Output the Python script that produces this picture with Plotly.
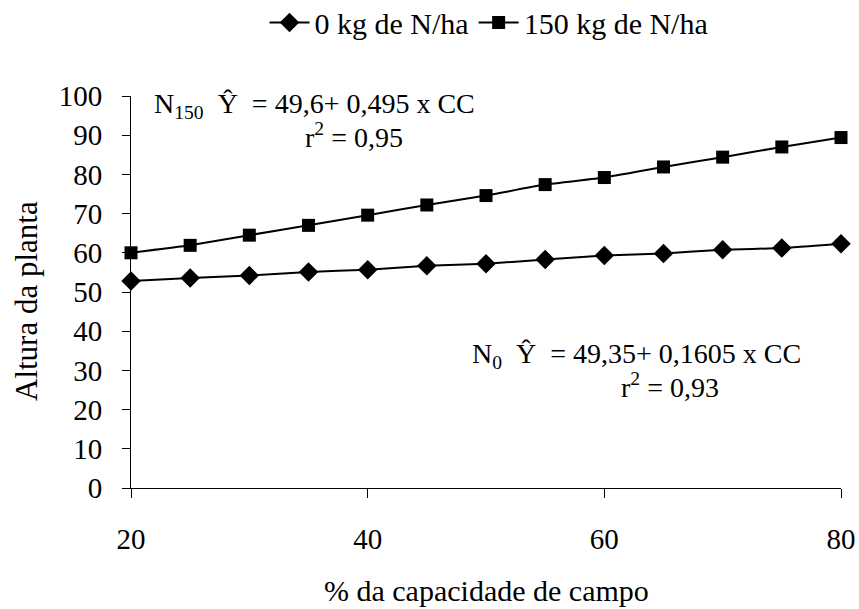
import plotly.graph_objects as go

cc = [20, 25, 30, 35, 40, 45, 50, 55, 60, 65, 70, 75, 80]
n0 = [52.8, 53.6, 54.2, 55.1, 55.7, 56.7, 57.2, 58.3, 59.3, 59.8, 60.8, 61.2, 62.3]
n150 = [60.0, 61.9, 64.5, 67.0, 69.6, 72.2, 74.6, 77.4, 79.2, 81.9, 84.4, 87.0, 89.4]
names = ["0 kg de N/ha", "150 kg de N/ha"]
yticks = [0, 10, 20, 30, 40, 50, 60, 70, 80, 90, 100]
xticks = [20, 40, 60, 80]

FONT = "Liberation Serif"
W, H = 859, 609
L, R, T, B = 131, 18, 96, 121
pw, ph = W - L - R, H - T - B

fig = go.Figure()
fig.add_trace(go.Scatter(x=cc, y=n0, name=names[0], mode="lines+markers",
                         line=dict(color="black", width=2, shape="spline", smoothing=0.4),
                         marker=dict(symbol="diamond", size=15, color="black"),
                         cliponaxis=False))
fig.add_trace(go.Scatter(x=cc, y=n150, name=names[1], mode="lines+markers",
                         line=dict(color="black", width=2, shape="spline", smoothing=0.4),
                         marker=dict(symbol="square", size=13, color="black"),
                         cliponaxis=False))

fig.update_layout(
    width=W, height=H,
    margin=dict(l=L, r=R, t=T, b=B, autoexpand=False),
    paper_bgcolor="white", plot_bgcolor="white",
    font=dict(family=FONT, size=28, color="black"),
    showlegend=True,
    legend=dict(orientation="h", x=(489 - L) / pw, xanchor="center", y=0.963, yanchor="middle",
                yref="container", font=dict(size=30, family=FONT), itemwidth=40,
                tracegroupgap=0),
    xaxis=dict(range=[20, 80], tickvals=xticks, ticks="outside", ticklen=9,
               showline=True, linecolor="black", linewidth=1, tickcolor="black",
               showgrid=False, zeroline=False, tickfont=dict(size=29, family=FONT),
               ticklabelstandoff=16, automargin=False),
    yaxis=dict(range=[0, 100], tickvals=yticks, ticks="outside", ticklen=8,
               showline=True, linecolor="black", linewidth=1, tickcolor="black",
               showgrid=False, zeroline=False, tickfont=dict(size=29, family=FONT),
               ticklabelstandoff=14, automargin=False),
)

def px2paper(x, y):
    return (x - L) / pw, 1 - (y - T) / ph

ann = [
    dict(x=152, y=105, text="N<sub>150</sub>  Ŷ  = 49,6+ 0,495 x CC", xanchor="left", size=28),
    dict(x=354, y=135, text="r<sup>2</sup> = 0,95", xanchor="center", size=28),
    dict(x=470, y=355, text="N<sub>0</sub>  Ŷ  = 49,35+ 0,1605 x CC", xanchor="left", size=28),
    dict(x=670, y=385, text="r<sup>2</sup> = 0,93", xanchor="center", size=28),
    dict(x=486, y=590, text="% da capacidade de campo", xanchor="center", size=30),
]
for a in ann:
    ax, ay = px2paper(a["x"], a["y"])
    fig.add_annotation(x=ax, y=ay, xref="paper", yref="paper",
                       text=a["text"], xanchor=a["xanchor"], yanchor="middle",
                       showarrow=False, font=dict(size=a["size"], family=FONT, color="black"))

ax, ay = px2paper(26, 301)
fig.add_annotation(x=ax, y=ay, xref="paper", yref="paper",
                   text="Altura da planta", textangle=-90, showarrow=False,
                   xanchor="center", yanchor="middle",
                   font=dict(size=31, family=FONT, color="black"))

fig.write_html("out.html", config={"displayModeBar": False},
               post_script="document.body.style.margin='0';document.body.style.padding='0';")
